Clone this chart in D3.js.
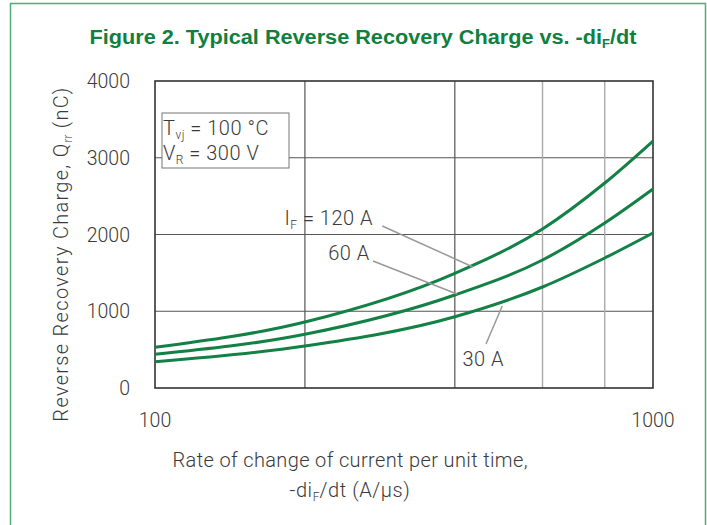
<!DOCTYPE html>
<html>
<head>
<meta charset="utf-8">
<script src="https://cdn.jsdelivr.net/npm/d3@7"></script>
<style>
  body { margin: 0; background: #fff; }
  text { font-family: Roboto, "Liberation Sans", sans-serif; }
</style>
</head>
<body>
<div id="chart"></div>
<script>
// Rate of change of current (A/us) and charge values (nC)
const rates = [100, 200, 400, 600, 800, 1000];
const q120 = [530, 860, 1494, 2072, 2671, 3218];
const q60 = [439, 700, 1212, 1668, 2150, 2593];
const q30 = [343, 547, 929, 1316, 1694, 2020];

const yTicks = [0, 1000, 2000, 3000, 4000];
const xTicks = [100, 1000];
const xGridDark = [200, 400];
const xGridLight = [600, 800];

// Curve labels, placed in data units (rate, charge)
const labels = [
  { name: "120", text: "= 120 A", at: [274, 2124], from: [286, 2111], to: [435, 1577] },
  { name: "60", text: "60 A", at: [270, 1668], from: [274, 1655], to: [404, 1225] },
  { name: "30", text: "30 A", at: [456, 287], from: [462, 573], to: [498, 1068] }
];

const W = 707, H = 525;
const margin = { top: 81, right: 54, bottom: 137, left: 155 };
const width = W - margin.left - margin.right;
const height = H - margin.top - margin.bottom;

const green = "#10803f";
const curveColor = "#138045";
const textColor = "#3a3a3a";
const labelFont = "20px";

const svg = d3.select("#chart").append("svg")
  .attr("width", W)
  .attr("height", H);

// outer frame
svg.append("rect")
  .attr("x", 10.5).attr("y", 3.5)
  .attr("width", 695).attr("height", 530)
  .attr("fill", "none")
  .attr("stroke", "#4caf78")
  .attr("stroke-width", 1.5);

// title
const title = svg.append("text")
  .attr("x", 363).attr("y", 44)
  .attr("text-anchor", "middle")
  .attr("textLength", 547)
  .attr("lengthAdjust", "spacingAndGlyphs")
  .style("font-family", "'Liberation Sans', Arial, sans-serif")
  .style("font-weight", "bold")
  .style("font-size", "20px")
  .attr("fill", green);
title.append("tspan").text("Figure 2. Typical Reverse Recovery Charge vs. -di");
title.append("tspan").attr("dy", 4).style("font-size", "12px").text("F");
title.append("tspan").attr("dy", -4).text("/dt");

const g = svg.append("g")
  .attr("transform", `translate(${margin.left},${margin.top})`);

const x = d3.scaleLog().domain([100, 1000]).range([0, width]);
const y = d3.scaleLinear().domain([0, 4000]).range([height, 0]);

// grid lines
g.selectAll(".hgrid")
  .data(yTicks.filter(d => d > 0 && d < 4000))
  .enter().append("line")
  .attr("x1", 0).attr("x2", width)
  .attr("y1", d => y(d)).attr("y2", d => y(d))
  .attr("stroke", "#555").attr("stroke-width", 1.2);

g.selectAll(".vgrid")
  .data(xGridDark)
  .enter().append("line")
  .attr("x1", d => x(d)).attr("x2", d => x(d))
  .attr("y1", 0).attr("y2", height)
  .attr("stroke", "#555").attr("stroke-width", 1.2);

g.selectAll(".vgridl")
  .data(xGridLight)
  .enter().append("line")
  .attr("x1", d => x(d)).attr("x2", d => x(d))
  .attr("y1", 0).attr("y2", height)
  .attr("stroke", "#aaa").attr("stroke-width", 1.4);

// plot border
g.append("rect")
  .attr("width", width).attr("height", height)
  .attr("fill", "none")
  .attr("stroke", "#333").attr("stroke-width", 1.6);

// y tick labels
g.selectAll(".ylab")
  .data(yTicks)
  .enter().append("text")
  .attr("x", -25)
  .attr("y", d => y(d))
  .attr("dy", "0.36em")
  .attr("text-anchor", "end")
  .style("font-size", "19.5px")
  .style("font-weight", 300)
  .attr("fill", textColor)
  .text(d => d);

// x tick labels
g.selectAll(".xlab")
  .data(xTicks)
  .enter().append("text")
  .attr("x", d => x(d))
  .attr("y", height + 39)
  .attr("text-anchor", "middle")
  .style("font-size", "19.5px")
  .style("font-weight", 300)
  .attr("fill", textColor)
  .text(d => d);

// curves
const line = d3.line()
  .x(d => x(d[0]))
  .y(d => y(d[1]))
  .curve(d3.curveMonotoneX);

[q120, q60, q30].forEach(series => {
  g.append("path")
    .datum(rates.map((r, i) => [r, series[i]]))
    .attr("d", line)
    .attr("fill", "none")
    .attr("stroke", curveColor)
    .attr("stroke-width", 3);
});

// leader lines
g.selectAll(".leader")
  .data(labels)
  .enter().append("line")
  .attr("x1", d => x(d.from[0])).attr("y1", d => y(d.from[1]))
  .attr("x2", d => x(d.to[0])).attr("y2", d => y(d.to[1]))
  .attr("stroke", "#999").attr("stroke-width", 1.5);

// curve labels
labels.forEach(d => {
  const t = g.append("text")
    .attr("x", x(d.at[0]))
    .attr("y", y(d.at[1]))
    .attr("text-anchor", d.name === "30" ? "middle" : "end")
    .style("font-size", labelFont)
    .style("font-weight", 300)
    .style("letter-spacing", "0.5px")
    .attr("fill", textColor);
  if (d.name === "120") {
    t.append("tspan").text("I");
    t.append("tspan").attr("dy", 4).style("font-size", "12px").text("F");
    t.append("tspan").attr("dy", -4).text(" " + d.text);
  } else {
    t.text(d.text);
  }
});

// condition box
const box = g.append("g").attr("transform", "translate(7,32)");
box.append("rect")
  .attr("width", 127).attr("height", 55)
  .attr("fill", "#fff")
  .attr("stroke", "#777").attr("stroke-width", 1);
const t1 = box.append("text").attr("x", 1).attr("y", 22)
  .style("font-size", labelFont).style("font-weight", 300)
  .style("letter-spacing", "0.5px").attr("fill", textColor);
t1.append("tspan").text("T");
t1.append("tspan").attr("dy", 4).style("font-size", "12px").text("vj");
t1.append("tspan").attr("dy", -4).text(" = 100 °C");
const t2 = box.append("text").attr("x", 1).attr("y", 47)
  .style("font-size", labelFont).style("font-weight", 300)
  .style("letter-spacing", "0.5px").attr("fill", textColor);
t2.append("tspan").text("V");
t2.append("tspan").attr("dy", 4).style("font-size", "12px").text("R");
t2.append("tspan").attr("dy", -4).text("  = 300 V");

// x axis title
svg.append("text")
  .attr("x", 350).attr("y", 467)
  .attr("text-anchor", "middle")
  .attr("textLength", 355)
  .attr("lengthAdjust", "spacing")
  .style("font-size", labelFont).style("font-weight", 300)
  .attr("fill", textColor)
  .text("Rate of change of current per unit time,");
const xt2 = svg.append("text")
  .attr("x", 350).attr("y", 497)
  .attr("text-anchor", "middle")
  .style("font-size", labelFont).style("font-weight", 300)
  .attr("fill", textColor);
xt2.append("tspan").style("letter-spacing", "0.6px").text("-di");
xt2.append("tspan").attr("dy", 4).style("font-size", "12px").text("F");
xt2.append("tspan").attr("dy", -4).style("letter-spacing", "0.6px").text("/dt (A/µs)");

// y axis title
const yt = svg.append("text")
  .attr("transform", "translate(68,254) rotate(-90)")
  .attr("text-anchor", "middle")
  .style("font-size", labelFont).style("font-weight", 300)
  .attr("fill", textColor);
yt.append("tspan").style("letter-spacing", "1.3px").text("Reverse Recovery Charge, Q");
yt.append("tspan").attr("dy", 4).style("font-size", "12px").text("rr");
yt.append("tspan").attr("dy", -4).style("letter-spacing", "1.3px").text(" (nC)");
</script>
</body>
</html>
